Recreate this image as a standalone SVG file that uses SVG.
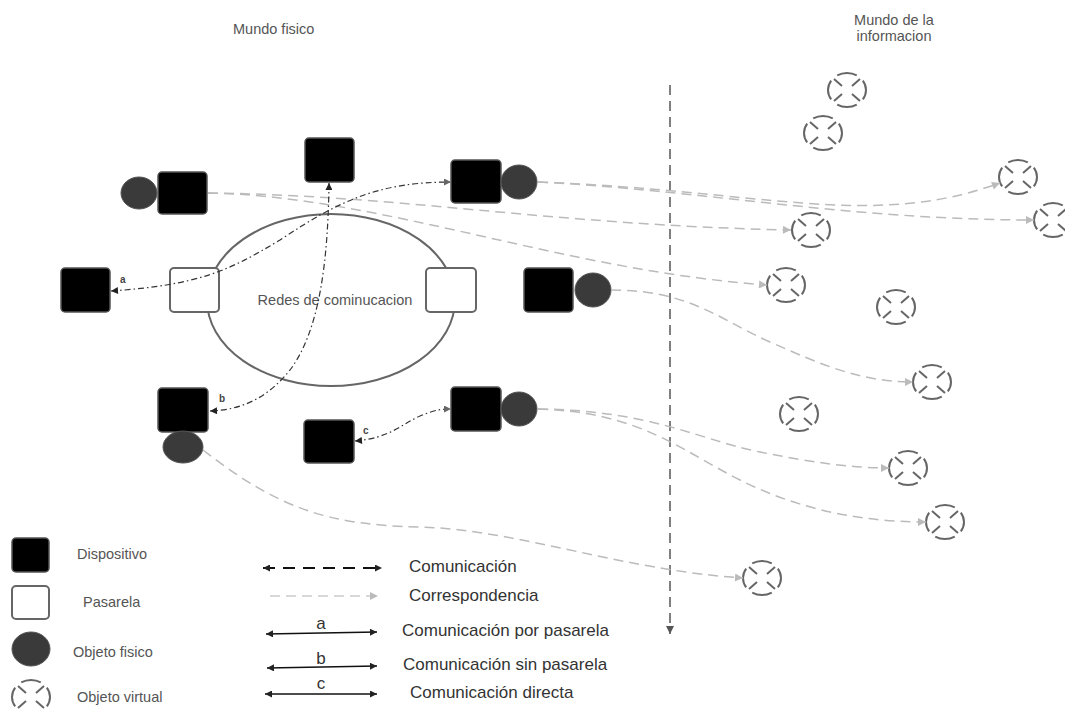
<svg xmlns="http://www.w3.org/2000/svg" xmlns:xlink="http://www.w3.org/1999/xlink" width="1065" height="711" viewBox="0 0 1065 711">
<style>
text{font-family:"Liberation Sans",Arial,sans-serif;}
.lbl{font-size:14.5px;fill:#555;}
.leg{font-size:17px;fill:#333;}
.small{font-size:10px;font-weight:bold;fill:#444;}
.dev{fill:#000;stroke:#555;stroke-width:1.5;}
.gw{fill:#fff;stroke:#666;stroke-width:2;}
.phy{fill:#3a3a3a;stroke:#555;stroke-width:1;}
.vo{fill:none;stroke:#666;stroke-width:2;}
.corr{fill:none;stroke:#bbb;stroke-width:1.5;stroke-dasharray:10 6;marker-end:url(#ag);}
.comm{fill:none;stroke:#333;stroke-width:1.2;stroke-dasharray:6 3 1.5 3;marker-start:url(#ac);marker-end:url(#ac);}
.solid{fill:none;stroke:#111;stroke-width:1.6;marker-start:url(#ac);marker-end:url(#ac);}
</style>
<defs>
<marker id="ac" viewBox="0 0 10 10" refX="10" refY="5" markerWidth="10" markerHeight="7" markerUnits="userSpaceOnUse" orient="auto-start-reverse"><path d="M0,0 L10,5 L0,10 z" fill="#222"/></marker>
<marker id="acg" viewBox="0 0 10 10" refX="10" refY="5" markerWidth="10" markerHeight="7" markerUnits="userSpaceOnUse" orient="auto"><path d="M0,0 L10,5 L0,10 z" fill="#666"/></marker>
<marker id="ag" viewBox="0 0 10 10" refX="10" refY="5" markerWidth="11" markerHeight="8" markerUnits="userSpaceOnUse" orient="auto-start-reverse"><path d="M0,0 L10,5 L0,10 z" fill="#bbb"/></marker>
<marker id="av" viewBox="0 0 10 10" refX="10" refY="5" markerWidth="10" markerHeight="8" markerUnits="userSpaceOnUse" orient="auto"><path d="M0,0 L10,5 L0,10 z" fill="#555"/></marker>
<g id="vo" class="vo">
<ellipse cx="0" cy="0" rx="19" ry="17" pathLength="100" stroke-dasharray="18 7" stroke-dashoffset="9"/>
<path d="M-5,-4 L-13,-11 M5,-4 L13,-11 M-5,4 L-13,11 M5,4 L13,11"/>
</g>
</defs>
<rect width="1065" height="711" fill="#fff"/>

<g id="titles">
<text class="lbl" x="233" y="34">Mundo fisico</text>
<text class="lbl" x="894" y="25" text-anchor="middle">Mundo de la</text>
<text class="lbl" x="894" y="41" text-anchor="middle">informacion</text>
</g>

<g id="divider">
<line x1="670" y1="85" x2="670" y2="634" stroke="#555" stroke-width="1.5" stroke-dasharray="10 6" marker-end="url(#av)"/>
</g>

<g id="network">
<ellipse cx="331" cy="300" rx="124" ry="86" fill="none" stroke="#666" stroke-width="2"/>
<text class="lbl" x="335" y="305" text-anchor="middle">Redes de cominucacion</text>
</g>
<g id="gw-left"><rect class="gw" x="170" y="268" width="49" height="44" rx="4"/></g>
<g id="gw-right"><rect class="gw" x="426" y="268" width="50" height="44" rx="4"/></g>

<g id="dev-topleft"><ellipse class="phy" cx="139" cy="193" rx="18" ry="16"/><rect class="dev" x="158" y="172" width="49" height="42" rx="4"/></g>
<g id="dev-top"><rect class="dev" x="305" y="138" width="49" height="44" rx="4"/></g>
<g id="dev-topright"><rect class="dev" x="451" y="160" width="50" height="43" rx="4"/><ellipse class="phy" cx="519" cy="182" rx="18" ry="17"/></g>
<g id="dev-a"><rect class="dev" x="61" y="268" width="49" height="44" rx="4"/></g>
<g id="dev-midright"><rect class="dev" x="524" y="268" width="49" height="44" rx="4"/><ellipse class="phy" cx="593" cy="290" rx="18" ry="17"/></g>
<g id="dev-b"><rect class="dev" x="158" y="388" width="50" height="44" rx="4"/><ellipse class="phy" cx="183" cy="447" rx="20" ry="16"/></g>
<g id="dev-c"><rect class="dev" x="304" y="420" width="50" height="43" rx="4"/></g>
<g id="dev-botright"><rect class="dev" x="451" y="387" width="50" height="44" rx="4"/><ellipse class="phy" cx="519" cy="409" rx="18" ry="17"/></g>

<g id="virtual-objects">
<use xlink:href="#vo" href="#vo" x="847" y="90"/>
<use xlink:href="#vo" href="#vo" x="823" y="133"/>
<use xlink:href="#vo" href="#vo" x="1018" y="177"/>
<use xlink:href="#vo" href="#vo" x="1053" y="220"/>
<use xlink:href="#vo" href="#vo" x="811" y="230"/>
<use xlink:href="#vo" href="#vo" x="786" y="285"/>
<use xlink:href="#vo" href="#vo" x="896" y="307"/>
<use xlink:href="#vo" href="#vo" x="932" y="382"/>
<use xlink:href="#vo" href="#vo" x="799" y="414"/>
<use xlink:href="#vo" href="#vo" x="908" y="468"/>
<use xlink:href="#vo" href="#vo" x="945" y="522"/>
<use xlink:href="#vo" href="#vo" x="762" y="578"/>
</g>

<g id="connectors">
<path class="corr" d="M538,182 C760,190 870,230 1000,183"/>
<path class="corr" d="M538,182 C700,190 850,220 1034,220"/>
<path class="corr" d="M208,193 C400,195 550,225 791,230"/>
<path class="corr" d="M208,193 C380,196 560,270 767,285"/>
<path class="corr" d="M611,290 C690,290 720,320 770,342 C820,364 860,382 913,382"/>
<path class="corr" d="M538,409 C650,410 700,440 760,452 C810,462 850,468 889,468"/>
<path class="corr" d="M538,409 C640,412 680,450 740,480 C790,505 850,522 926,522"/>
<path class="corr" d="M203,450 C280,510 330,525 420,527 C520,530 620,570 743,578"/>
<path class="comm" style="marker-end:url(#acg)" d="M111,291 C200,285 230,270 280,240 C340,200 380,182 451,182"/>
<path class="comm" d="M329,183 C328,260 320,330 290,370 C270,395 245,410 210,411"/>
<path class="comm" style="marker-end:url(#acg)" d="M355,441 C390,438 400,425 420,416 C435,410 440,409 451,409"/>
<text class="small" x="120" y="283">a</text>
<text class="small" x="219" y="402">b</text>
<text class="small" x="363" y="434">c</text>
</g>

<g id="legend">
<rect class="dev" x="12" y="538" width="37" height="34" rx="4"/>
<text class="lbl" x="77" y="559">Dispositivo</text>
<rect class="gw" x="12" y="586" width="37" height="33" rx="4"/>
<text class="lbl" x="83" y="607">Pasarela</text>
<ellipse class="phy" cx="31" cy="649" rx="19" ry="17"/>
<text class="lbl" x="73" y="657">Objeto fisico</text>
<use xlink:href="#vo" href="#vo" x="31" y="697"/>
<text class="lbl" x="77" y="702">Objeto virtual</text>

<line x1="263" y1="568" x2="382" y2="568" stroke="#111" stroke-width="2" stroke-dasharray="12 8" marker-start="url(#ac)" marker-end="url(#ac)"/>
<text class="leg" x="409" y="572">Comunicación</text>
<line x1="270" y1="596" x2="378" y2="596" stroke="#ccc" stroke-width="1.5" stroke-dasharray="10 6" marker-end="url(#ag)"/>
<text class="leg" x="409" y="601">Correspondencia</text>
<line class="solid" x1="266" y1="634" x2="377" y2="632"/>
<text class="leg" x="321" y="629" text-anchor="middle" font-size="15">a</text>
<text class="leg" x="402" y="636">Comunicación por pasarela</text>
<line class="solid" x1="267" y1="668" x2="377" y2="666"/>
<text class="leg" x="321" y="664" text-anchor="middle">b</text>
<text class="leg" x="403" y="670">Comunicación sin pasarela</text>
<line class="solid" x1="265" y1="694" x2="377" y2="694"/>
<text class="leg" x="321" y="689" text-anchor="middle">c</text>
<text class="leg" x="410" y="698">Comunicación directa</text>
</g>
</svg>
